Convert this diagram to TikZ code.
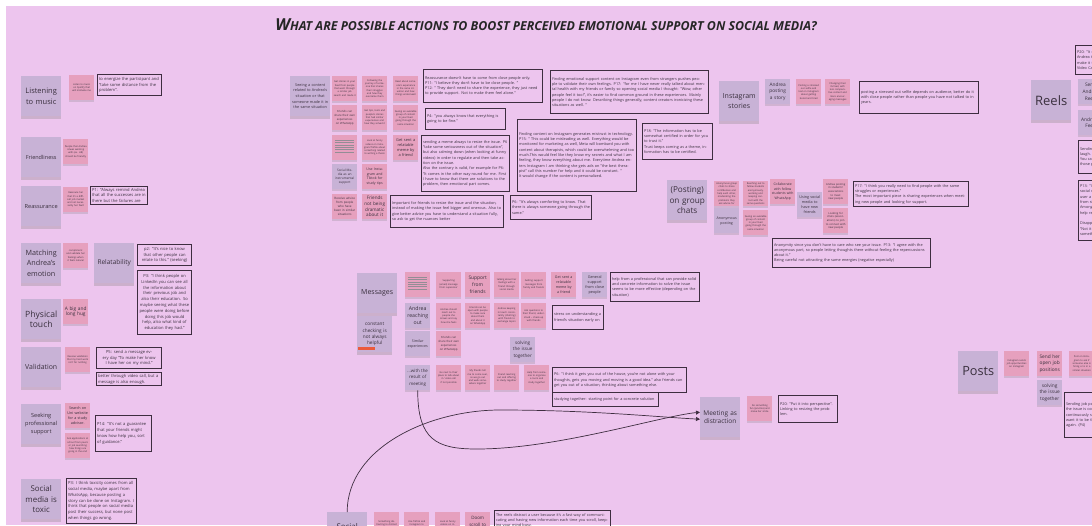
\documentclass[tikz,border=0pt]{standalone}
\usepackage{fontspec}
\setmainfont{Open Sans}
\usetikzlibrary{arrows.meta, shadows}
\definecolor{board}{RGB}{237,197,238}
\definecolor{lilac}{RGB}{200,178,214}
\definecolor{pinkn}{RGB}{230,160,190}
\definecolor{frame}{RGB}{62,46,64}
\definecolor{ink}{RGB}{58,48,62}
\definecolor{flag}{RGB}{235,90,60}
\newcommand{\titlesc}[1]{{\fontsize{12.4}{13}\selectfont\MakeUppercase{#1}}}

\begin{document}
\begin{tikzpicture}[x=1pt, y=-1pt]
\tikzstyle{cat}=[fill=lilac, text=ink, minimum width=40pt, minimum height=40pt, text width=37pt, inner sep=1.5pt, align=center, anchor=north west, drop shadow={opacity=.3, shadow xshift=0pt, shadow yshift=-2.5pt}, font=\fontsize{7.5}{10.3}\selectfont]
\tikzstyle{note}=[fill=pinkn, text=ink, minimum width=25pt, minimum height=25pt, text width=22pt, inner sep=1.5pt, align=center, anchor=north west, drop shadow={opacity=.25, shadow xshift=0pt, shadow yshift=-2pt}, font=\fontsize{2.4}{3.3}\selectfont]
\tikzstyle{tag}=[note, fill=lilac]
\tikzstyle{quote}=[draw=frame, line width=1.1pt, text=ink, inner sep=1.5pt, align=left, anchor=north west, font=\fontsize{3.8}{5.3}\selectfont]
\tikzstyle{lquote}=[quote, font=\fontsize{4.1}{5.8}\selectfont]
\tikzstyle{link}=[draw=frame, line width=.7pt, -{Triangle[length=4pt, width=4pt]}]

\useasboundingbox (0,0) rectangle (1092,525);
\clip (0,0) rectangle (1092,525);
\fill[white] (0,0) rectangle (1092,525);
\fill[board] (6,6) rectangle (1092,525);

\node[text=black!85] (title) at (546,25) {\bfseries\itshape\fontsize{16.5}{16.5}\selectfont W\titlesc{hat are possible actions to boost perceived emotional support on social media?}};

\node[cat] (music) at (21,76) {Listening\\to music};
\node[note] (spotify) at (69,75) {Listen to music on Spotify that will motivate me};
\node[lquote, text width=61pt, minimum height=21pt] (energize) at (97,74) {to energize the participant and "take some distance from the problem".};
\node[cat, font=\fontsize{5.5}{7}\selectfont] (friendly) at (21,137) {Friendliness};
\node[note] (peers) at (63,139) {People that Andrea is/was working with (ex. HR) should be friendly};
\node[cat, font=\fontsize{5.6}{7}\selectfont] (reassure) at (21,186) {Reassurance};
\node[note] (market) at (63,187) {Reassure her that it's a difficult job market and not necessarily her fault};
\node[lquote, text width=54pt, minimum height=16pt] (remind) at (90,186) {P1: "Always remind Andrea that all the successes are in there but the failures are};
\node[cat, font=\fontsize{7.2}{10.3}\selectfont] (matching) at (21,243) {Matching\\Andrea's\\emotion};
\node[note] (feelings) at (63,243) {compliment and validate her feelings when it feels natural};
\node[cat, font=\fontsize{6.5}{8}\selectfont] (relate) at (94,243) {Relatability};
\node[lquote, align=center, text width=51pt, minimum height=21pt] (nice) at (137,244) {p2: "It's nice to know that other people can relate to this." (seeking)};
\node[lquote, align=center, text width=51pt, minimum height=64pt] (linkedin) at (137,270) {P3: "I think people on LinkedIn you can see all the information about their previous job and also their education. So maybe seeing what these people were doing before doing this job would help, also what kind of education they had."};
\node[cat, font=\fontsize{8.6}{10.8}\selectfont] (touch) at (21,299) {Physical\\touch};
\node[note, font=\fontsize{4.8}{5.4}\selectfont] (hug) at (63,299) {A big and long hug};
\node[cat, font=\fontsize{6.9}{8}\selectfont] (valid) at (21,347) {Validation};
\node[note] (hardwork) at (65,347) {Receive validation that my hard work isn't for nothing};
\node[lquote, align=center, text width=62pt, minimum height=21pt] (daily) at (96,347) {P5: send a message every day "To make her know I have her on my mind."};
\node[lquote, text width=62pt, minimum height=13pt] (videocall) at (96,372) {better through video call, but a message is also enough.};
\node[cat, font=\fontsize{5.6}{7.7}\selectfont] (profsupport) at (21,404) {Seeking\\professional\\support};
\node[note, font=\fontsize{3.7}{4.8}\selectfont] (advisor) at (65,403) {Search on Uni website for a study advisor.};
\node[note] (askpeers) at (65,433) {Ask applications at school from peers or job searching how things are going in the end};
\node[lquote, text width=53pt, minimum height=36pt] (guarantee) at (95,415) {P14: "It's not a guarantee that your friends might know how help you, sort of guidance."};
\node[cat, font=\fontsize{7.9}{10.5}\selectfont] (toxic) at (21,479) {Social\\media is\\toxic};
\node[lquote, text width=67pt, minimum height=45pt] (toxicity) at (66,478) {P3: I think toxicity comes from all social media, maybe apart from WhatsApp, because posting a story can be done on Instagram. I think that people on social media post their success, but none post when things go wrong.};

\node[cat, font=\fontsize{3.8}{5.6}\selectfont] (seeing) at (290,76) {Seeing a content related to Andrea's situation or that someone made it in the same situation};
\node[note] (storyfeed) at (332,76) {Get stories in your feed from people that went through a similar job search and made it};
\node[note] (journey) at (362,76) {Following the journey of someone that shares their struggles and how they overcame them};
\node[note] (readabout) at (393,76) {Read about someone's experience in the same situation and how things ended well};
\node[note, font=\fontsize{2.8}{3.8}\selectfont] (shareexp) at (332,105) {Friends can share their own experiences on WhatsApp};
\node[note] (tips) at (362,105) {Get tips, tools and people's stories that had similar experiences and how they solved it};
\node[note] (group) at (393,105) {Seeing an available group of content in your feed going through the same situation};
\node[note] (lines) at (332,135) {};
\foreach \k in {0,...,5}
  \draw[ink!55, line width=.6pt] ([xshift=3pt, yshift={-5pt-2.4pt*\k}]lines.north west) -- ([xshift=-3pt, yshift={-5pt-2.4pt*\k}]lines.north east);
\node[note] (funny) at (362,135) {Look at funny videos on Instagram/TikTok about something related to writing a thesis};
\node[note, font=\fontsize{3.9}{5}\selectfont] (meme) at (393,135) {Get sent a relatable meme by a friend};
\node[tag, font=\fontsize{3.2}{4.3}\selectfont] (instrumental) at (332,164) {Social Media as an instrumental support};
\node[note, font=\fontsize{3.5}{4.4}\selectfont] (studytips) at (362,164) {Use Instagram and Tiktok for study tips};
\node[note, font=\fontsize{3}{4}\selectfont] (advice) at (332,194) {Receive advice from people who have been in similar situations};
\node[note, font=\fontsize{4.6}{5.7}\selectfont] (dramatic) at (362,194) {Friends not being dramatic about it};
\node[quote, text width=116pt, minimum height=33pt] (closepeople) at (423,69) {Reassurance doesn't have to come from close people only.\\P11: "I believe they don't have to be close people. "\\P12: " They don't need to share the experience, they just need to provide support. Not to make them feel alone."};
\node[quote, text width=77pt, minimum height=21pt] (fine) at (425,108) {P4: "you always know that everything is going to be fine."};
\node[quote, text width=85pt, minimum height=56pt] (sendmeme) at (421,135) {sending a meme always to resize the issue. P6 "take some seriousness out of the situation", but also calming down (when looking at funny videos) in order to regulate and then take action on the issue.\\Also the contrary is valid, for example for P6: "It comes in the other way round for me. First I have to know that there are solutions to the problem, then emotional part comes.};
\node[quote, text width=110pt, minimum height=32pt] (resize) at (390,195) {Important for friends to resize the issue and the situation, instead of making the issue feel bigger and onerous. Also to give better advice you have to understand a situation fully, so ask to get the nuances better};
\node[quote, text width=116pt, minimum height=72pt] (mistrust) at (517,119) {Finding content on Instagram generates mistrust in technology.\\P15: " This could be misleading as well. Everything would be monitored for marketing as well, Meta will bombard you with content about therapists, which could be overwhelming and too much.This would feel like they know my secrets and what I am feeling, they know everything about me. Everytime Andrea enters Instagram I am thinking she gets ads on "the best therapist" call this number for help and it could be constant. "\\It would change if the content is personalized.};
\node[quote, text width=78pt, minimum height=24pt] (comforting) at (510,195) {P6: "It's always comforting to know. That there is always someone going through the same."};
\node[quote, text width=155pt, minimum height=43pt] (strangers) at (550,70) {Finding emotional support content on Instagram even from strangers pushes people to validate their own feelings. P17: "for me I have never really talked about mental health with my friends or family so opening social media I thought: "Wow, other people feel it too!", it's easier to find common ground in these experiences. Mainly people I do not know. Describing things generally, content creators ironicizing these situations as well. "};
\node[quote, text width=67pt, minimum height=36pt] (certified) at (642,123) {P18: "The information has to be somewhat certified in order for you to trust it."\\Trust keeps coming as a theme, information has to be certified.};

\node[cat, font=\fontsize{7}{10}\selectfont] (stories) at (719,81) {Instagram\\stories};
\node[tag, font=\fontsize{4.8}{6.7}\selectfont] (poststory) at (765,79) {Andrea posting a story};
\node[note] (selfie) at (796,79) {Posting a stressed out selfie and text on Instagram about getting bored and tired};
\node[note] (igfeed) at (825,79) {Changing their IG feed, with less comparative content and more encouraging messages};
\node[quote, text width=116pt, minimum height=32pt] (audience) at (859,81) {posting a stressed out selfie depends on audience, better do it with close people rather than people you have not talked to in years.};
\node[cat, font=\fontsize{8.2}{10.5}\selectfont] (groupchats) at (667,180) {(Posting)\\on group\\chats};
\node[note] (anongroup) at (714,181) {Anonymous group chats to share confidences and help each other, moderating the problems they ask advice for};
\node[note] (fellow) at (743,181) {Reaching out to fellow students anonymously, working and keeping contact with the same questions};
\node[note, font=\fontsize{3.4}{4.4}\selectfont] (collab) at (770,179) {Collaborate with fellow students with WhatsApp};
\node[tag, font=\fontsize{3.7}{5}\selectfont] (newfriends) at (797,192) {Using social media to have new friends};
\node[note, font=\fontsize{2.7}{3.6}\selectfont] (associations) at (823,179) {Andrea posting in students' associations to meet new people};
\node[tag, font=\fontsize{3.6}{5}\selectfont] (anonpost) at (714,208) {Anonymous posting};
\node[note] (samegroup) at (743,210) {Seeing an available group of content in your feed going through the same situation};
\node[note, font=\fontsize{2.7}{3.6}\selectfont] (joinchats) at (823,208) {Looking for chats (associations) to join to connect with new people};
\node[quote, text width=112pt, minimum height=25pt] (struggles) at (853,181) {P17: "I think you really need to find people with the same struggles or experiences."\\The most important piece is sharing experiences when meeting new people and looking for support.};
\node[quote, text width=155pt, minimum height=29pt] (anonymity) at (772,238) {Anonymity since you don't have to care who see your issue. P13: "I agree with the anonymous part, so people letting thoughts there without feeling the repercussions about it."\\Being careful not attracting the same energies (negative especially)};

\node[quote, text width=60pt, minimum height=29pt] (videofun) at (1075,45) {P20: "It could be nice to\\Andrea to use them to\\make it fun, through a\\Video Call"};
\node[cat, font=\fontsize{13}{15}\selectfont] (reels) at (1031,80) {Reels};
\node[tag, font=\fontsize{4.8}{6.7}\selectfont] (sendreels) at (1078,79) {Send\\Andrea\\Reels};
\node[tag, font=\fontsize{4.8}{6.7}\selectfont] (feed) at (1078,110) {Andrea's\\Feed};
\node[quote, text width=60pt, minimum height=33pt] (laugh) at (1078,140) {Sending Reels to make her laugh.\\You can decide to send them to\\those people you are close to.};
\node[quote, text width=60pt, minimum height=60pt] (loneliness) at (1078,180) {P13: "I think that\\social media can help the\\user a lot, getting support\\from similar situations.\\Among others, it can\\help reduce loneliness."\\[5.3pt]Disappointment:\\"Not it is not always\\something that helps."};

\node[cat, font=\fontsize{7}{9}\selectfont] (messages) at (357,273) {Messages};
\node[cat, minimum width=35pt, minimum height=36pt, text width=32pt, font=\fontsize{4.7}{6.3}\selectfont] (checking) at (357,316) {constant checking is not always helpful};
\fill[flag] ([xshift=1pt, yshift=2pt]checking.south west) rectangle ([xshift=18pt, yshift=5pt]checking.south west);
\node[note] (lines2) at (405,272) {};
\foreach \k in {0,...,5}
  \draw[ink!55, line width=.6pt] ([xshift=3pt, yshift={-5pt-2.4pt*\k}]lines2.north west) -- ([xshift=-3pt, yshift={-5pt-2.4pt*\k}]lines2.north east);
\node[note] (supervisor) at (436,272) {Supporting (email) message from supervisor};
\node[note, font=\fontsize{4.9}{6.7}\selectfont] (friends) at (465,272) {Support\\from\\friends};
\node[note] (talking) at (494,272) {talking about her feelings with a friend through social media};
\node[note] (family) at (521,272) {Getting support messages from family and friends};
\node[note, font=\fontsize{3.6}{5}\selectfont] (meme2) at (551,272) {Get sent a relatable meme by a friend};
\node[tag, font=\fontsize{3.8}{5}\selectfont] (general) at (582,272) {General support from close people};
\node[quote, text width=86pt, minimum height=29pt] (professional) at (610,272) {help from a professional that can provide solid and concrete information to solve the issue seems to be more effective (depending on the situation)};
\node[tag, font=\fontsize{5.2}{6.7}\selectfont] (reaching) at (405,303) {Andrea\\reaching\\out};
\node[note] (reachout) at (436,303) {Andrea should reach out to people she knows and say how she feels};
\node[note] (beopen) at (465,303) {Friends can be open with people to make sure about them and about it on WhatsApp};
\node[note] (intouch) at (494,303) {Andrea keeping in touch consistently (chatting) with friends to exchange topics};
\node[note] (questions) at (521,303) {Ask questions to their friend, understood -- check-up with friends};
\node[quote, text width=48pt, minimum height=24pt] (early) at (552,305) {stress on understanding a friend's situation early on};
\node[tag, font=\fontsize{3.6}{5}\selectfont] (similar) at (405,331) {Similar experiences};
\node[note, font=\fontsize{2.8}{3.8}\selectfont] (ownexp) at (436,331) {Friends can share their own experiences on WhatsApp};
\node[tag, font=\fontsize{4.6}{6.7}\selectfont] (solving) at (510,337) {solving\\the issue\\together};
\node[tag, font=\fontsize{4.4}{6.3}\selectfont] (result) at (405,365) {...with the\\result of\\meeting};
\node[note] (theirplace) at (436,365) {Go next to their place to talk about it / video call if not possible};
\node[note] (comeover) at (465,365) {My friends tell me to come over, so we go out and walk somewhere together};
\node[note] (studytogether) at (494,365) {Friend reaching out and offering to study together};
\node[note] (organise) at (524,365) {Help from someone to organise a room and study together};
\node[quote, text width=131pt, minimum height=25pt] (outofhouse) at (552,367) {P6: "I think it gets you out of the house, you're not alone with your thoughts, gets you moving and moving is a good idea." also friends can get you out of a situation, thinking about something else.};
\node[quote, text width=103pt, minimum height=14pt] (starting) at (552,392) {studying together: starting point for a concrete solution};
\node[cat, font=\fontsize{6.5}{8.3}\selectfont] (meet) at (700,397) {Meeting as\\distraction};
\node[note] (smile) at (747,396) {Do something fun (practice) and make her smile};
\node[quote, text width=56pt, minimum height=27pt] (perspective) at (778,395) {P20: "Put it into perspective".\\Linking to resizing the problem.};

\node[cat, font=\fontsize{12.7}{15}\selectfont] (posts) at (958,351) {Posts};
\node[note] (jobig) at (1004,351) {Instagram sends job opportunities on Instagram};
\node[note, font=\fontsize{4.8}{6.7}\selectfont] (openjobs) at (1037,351) {Send her\\open job\\positions};
\node[note] (hiring) at (1069,351) {Post on Instagram to ask if someone else is hiring or is in a similar situation};
\node[tag, font=\fontsize{4.8}{6.7}\selectfont] (solving2) at (1037,380) {solving\\the issue\\together};
\node[quote, text width=60pt, minimum height=45pt] (jobpositions) at (1064,392) {Sending job positions helps\\the issue is considered, but\\continuously sending, you don't\\want it to be the focus all over\\again. (P4)};

\node[cat, font=\fontsize{7.9}{10.5}\selectfont] (social) at (327,512) {Social\\media};
\node[note] (distract) at (374,512) {Something distracting to distract her for a while};
\node[note] (escape) at (404,512) {Use TikTok and Instagram to escape from reality};
\node[note] (funny2) at (435,512) {Look at funny videos on Instagram/TikTok};
\node[note, font=\fontsize{4.5}{6.3}\selectfont] (doom) at (465,512) {Doom\\scroll to\\relax};
\node[quote, text width=113pt, minimum height=20pt] (fastway) at (494,510) {The reels distract a user because it's a fast way of communicating and having new information each time you scroll, keeping your mind busy.};

\draw[link] (result.south) .. controls +(0,50) and +(-40,0) .. (477,449) .. controls +(80,0) and +(-40,4) .. ([yshift=5pt]meet.west);
\draw[link] (social.north) .. controls +(0,-65) and +(-70,0) .. (500,410) .. controls +(90,0) and +(-40,-2) .. ([yshift=-2pt]meet.west);
\end{tikzpicture}
\end{document}
